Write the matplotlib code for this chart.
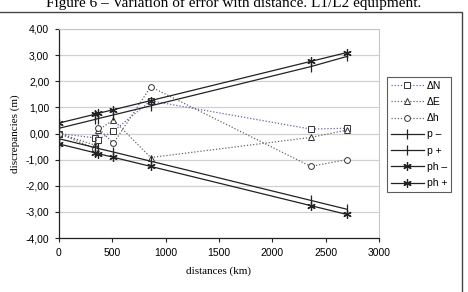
import matplotlib
matplotlib.use("Agg")
import matplotlib.pyplot as plt
from matplotlib.patches import Rectangle

# ---- data ----
distances = [0, 340, 365, 510, 860, 2360, 2700]
dN = [0.00, -0.17, -0.23, 0.09, 1.25, 0.17, 0.20]
dE = [0.00, -0.45, 0.12, 0.52, -0.92, -0.15, 0.13]
dh = [0.00, -0.58, 0.22, -0.38, 1.79, -1.26, -1.00]
p_minus = [-0.20, -0.54, -0.57, -0.71, -1.06, -2.56, -2.90]
p_plus = [0.20, 0.54, 0.57, 0.71, 1.06, 2.56, 2.95]
ph_minus = [-0.40, -0.74, -0.77, -0.91, -1.26, -2.76, -3.10]
ph_plus = [0.40, 0.74, 0.77, 0.91, 1.26, 2.76, 3.10]
labels = ["ΔN", "ΔE", "Δh", "p –", "p +", "ph –", "ph +"]
yticks = [-4, -3, -2, -1, 0, 1, 2, 3, 4]
xticks = [0, 500, 1000, 1500, 2000, 2500, 3000]
title = "Figure 6 – Variation of error with distance. L1/L2 equipment."

plt.rcParams['font.family'] = ['Liberation Sans', 'DejaVu Sans']

W, H = 468, 292
fig = plt.figure(figsize=(W / 100, H / 100), dpi=100)
ax = fig.add_axes([59 / W, 1 - 238 / H, (379 - 59) / W, (238 - 29) / H])

star = (6, 2, 0)
ax.plot(distances, dN, linestyle=(0, (1, 1.5)), color='#6464b0', lw=0.9,
        marker='s', ms=4.2, mfc='white', mec='#333333', mew=0.7, label=labels[0])
ax.plot(distances, dE, linestyle=(0, (1, 1.5)), color='#666666', lw=0.9,
        marker='^', ms=4.5, mfc='white', mec='#333333', mew=0.7, label=labels[1])
ax.plot(distances, dh, linestyle=(0, (1, 1.5)), color='#666666', lw=0.9,
        marker='o', ms=4.2, mfc='white', mec='#333333', mew=0.7, label=labels[2])
ax.plot(distances, p_minus, '-', color='#222222', lw=0.9,
        marker='|', ms=6.5, mew=0.9, label=labels[3])
ax.plot(distances, p_plus, '-', color='#222222', lw=0.9,
        marker='|', ms=6.5, mew=0.9, label=labels[4])
ax.plot(distances, ph_minus, '-', color='#222222', lw=0.9,
        marker=star, ms=6, mew=0.9, label=labels[5])
ax.plot(distances, ph_plus, '-', color='#222222', lw=0.9,
        marker=star, ms=6, mew=0.9, label=labels[6])

ax.set_xlim(0, 3000)
ax.set_ylim(-4, 4)
ax.set_yticks(yticks)
ax.set_yticklabels([f"{v:.2f}".replace('.', ',') for v in yticks])
ax.set_xticks(xticks)
ax.set_xticklabels([str(v) for v in xticks])
ax.tick_params(labelsize=7.5, length=3, width=0.8, color='#222222', pad=4)
ax.yaxis.grid(True, color='#d0d0d0', lw=0.9)
ax.set_axisbelow(True)
for s in ['top', 'right']:
    ax.spines[s].set_color('#c8c8c8')
for s in ['left', 'bottom']:
    ax.spines[s].set_color('#222222')
    ax.spines[s].set_linewidth(0.9)

ax.set_ylabel("discrepancies (m)", family='Liberation Serif', fontsize=8, labelpad=4)
ax.set_xlabel("distances (km)", family='Liberation Serif', fontsize=8, labelpad=6)

leg = fig.legend(loc='upper left', bbox_to_anchor=(387 / W, 1 - 77 / H),
                 fontsize=7.5, frameon=True, fancybox=False, edgecolor='#333333',
                 handlelength=3.2, handletextpad=0.3, labelspacing=0.6,
                 borderpad=0.35, borderaxespad=0)
leg.get_frame().set_linewidth(0.8)

fig.patches.append(Rectangle((-0.01, -0.1), 462 / W + 0.01, 1 - 12 / H + 0.1,
                             transform=fig.transFigure, fill=False,
                             edgecolor='#444444', lw=1.0))
fig.text(234 / W, 1 - 7.5 / H, title, family='Liberation Serif', fontsize=11,
         ha='center', va='baseline')

fig.savefig("out.png", dpi=100)
